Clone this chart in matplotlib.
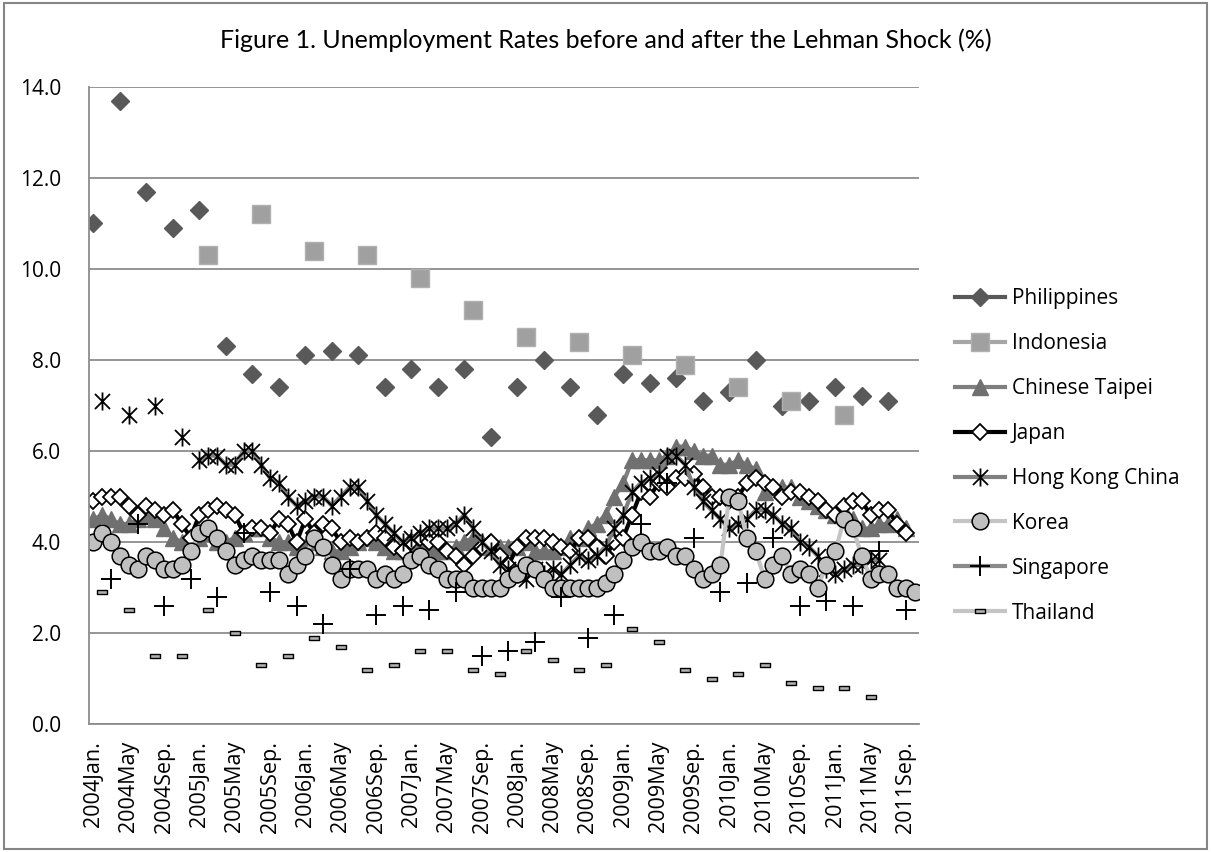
import numpy as np
import matplotlib
matplotlib.use('Agg')
import matplotlib.pyplot as plt
from matplotlib.path import Path
from matplotlib.patches import Rectangle

plt.rcParams['font.family'] = ['Open Sans', 'DejaVu Sans']

# monthly category axis: 2004 Jan .. 2011 Oct
n_months = 94
tick_labels = ['2004Jan.', '2004May', '2004Sep.', '2005Jan.', '2005May', '2005Sep.',
               '2006Jan.', '2006May', '2006Sep.', '2007Jan.', '2007May', '2007Sep.',
               '2008Jan.', '2008May', '2008Sep.', '2009Jan.', '2009May', '2009Sep.',
               '2010Jan.', '2010May', '2010Sep.', '2011Jan.', '2011May', '2011Sep.']

# quarterly, from 2004 Jan
philippines = [11.0, 13.7, 11.7, 10.9, 11.3, 8.3, 7.7, 7.4, 8.1, 8.2, 8.1, 7.4,
               7.8, 7.4, 7.8, 6.3, 7.4, 8.0, 7.4, 6.8, 7.7, 7.5, 7.6, 7.1,
               7.3, 8.0, 7.0, 7.1, 7.4, 7.2, 7.1]
# half-yearly, from 2005 Feb
indonesia = [10.3, 11.2, 10.4, 10.3, 9.8, 9.1, 8.5, 8.4, 8.1, 7.9, 7.4, 7.1, 6.8]
# monthly, from 2004 Jan
chinese_taipei = [4.5, 4.6, 4.5, 4.4, 4.4, 4.5, 4.6, 4.5, 4.3, 4.1, 4.0, 4.0,
                  4.1, 4.2, 4.0, 4.0, 4.1, 4.2, 4.3, 4.3, 4.1, 4.0, 4.0, 3.9,
                  3.9, 4.0, 3.9, 3.8, 3.8, 3.9, 4.0, 4.1, 4.0, 3.9, 3.8, 3.8,
                  3.8, 3.9, 3.9, 3.8, 3.8, 3.9, 4.0, 4.1, 4.0, 3.9, 3.9, 3.9,
                  3.9, 4.0, 3.8, 3.8, 3.8, 3.9, 4.1, 4.1, 4.3, 4.4, 4.6, 5.0,
                  5.3, 5.8, 5.8, 5.8, 5.8, 5.9, 6.1, 6.1, 6.0, 5.9, 5.9, 5.7,
                  5.7, 5.8, 5.7, 5.6, 5.1, 5.2, 5.2, 5.2, 5.0, 4.9, 4.8, 4.7,
                  4.6, 4.7, 4.5, 4.3, 4.3, 4.4, 4.4, 4.5, 4.3]
japan = [4.9, 5.0, 5.0, 5.0, 4.8, 4.6, 4.8, 4.7, 4.6, 4.7, 4.4, 4.1,
         4.6, 4.7, 4.8, 4.7, 4.6, 4.2, 4.3, 4.3, 4.2, 4.5, 4.4, 4.0,
         4.5, 4.2, 4.4, 4.3, 4.0, 4.1, 4.0, 4.1, 4.2, 4.1, 3.9, 3.8,
         4.0, 4.1, 4.0, 4.0, 3.8, 3.7, 3.5, 3.7, 3.9, 4.0, 3.7, 3.5,
         3.9, 4.1, 4.1, 4.1, 4.0, 3.9, 3.8, 4.1, 4.1, 3.9, 3.7, 4.0,
         4.1, 4.6, 5.1, 5.0, 5.3, 5.2, 5.4, 5.4, 5.5, 5.2, 5.0, 5.0,
         4.9, 5.0, 5.3, 5.4, 5.3, 5.2, 5.0, 5.1, 5.1, 5.0, 4.9, 4.7,
         4.6, 4.8, 4.9, 4.9, 4.6, 4.7, 4.7, 4.4, 4.2]
hong_kong = [None, 7.1, None, None, 6.8, None, None, 7.0, None, None, 6.3, None,
             5.8, 5.9, 5.9, 5.7, 5.7, 6.0, 6.0, 5.7, 5.4, 5.3, 5.0, 4.8,
             4.9, 5.0, 5.0, 4.8, 5.0, 5.2, 5.2, 4.9, 4.6, 4.4, 4.2, 4.0,
             4.1, 4.2, 4.3, 4.3, 4.3, 4.4, 4.6, 4.3, 4.0, 3.8, 3.5, 3.4,
             3.3, 3.2, 3.4, 3.3, 3.4, 3.3, 3.5, 3.7, 3.6, 3.7, 3.9, 4.3,
             4.6, 5.1, 5.3, 5.4, 5.5, 5.9, 5.9, 5.7, 5.2, 4.9, 4.7, 4.5,
             4.3, 4.4, 4.5, 4.7, 4.7, 4.6, 4.4, 4.3, 4.0, 3.9, 3.7, 3.4,
             3.3, 3.4, 3.5, 3.5, 3.6, 3.6]
korea = [4.0, 4.2, 4.0, 3.7, 3.5, 3.4, 3.7, 3.6, 3.4, 3.4, 3.5, 3.8,
         4.2, 4.3, 4.1, 3.8, 3.5, 3.6, 3.7, 3.6, 3.6, 3.6, 3.3, 3.5,
         3.7, 4.1, 3.9, 3.5, 3.2, 3.4, 3.4, 3.4, 3.2, 3.3, 3.2, 3.3,
         3.6, 3.7, 3.5, 3.4, 3.2, 3.2, 3.2, 3.0, 3.0, 3.0, 3.0, 3.2,
         3.3, 3.5, 3.4, 3.2, 3.0, 3.0, 3.0, 3.0, 3.0, 3.0, 3.1, 3.3,
         3.6, 3.9, 4.0, 3.8, 3.8, 3.9, 3.7, 3.7, 3.4, 3.2, 3.3, 3.5,
         5.0, 4.9, 4.1, 3.8, 3.2, 3.5, 3.7, 3.3, 3.4, 3.3, 3.0, 3.5,
         3.8, 4.5, 4.3, 3.7, 3.2, 3.3, 3.3, 3.0, 3.0, 2.9]
# quarterly, from 2004 Mar
singapore = [3.2, 4.4, 2.6, 3.2, 2.8, 4.2, 2.9, 2.6, 2.2, 3.4, 2.4, 2.6,
             2.5, 2.9, 1.5, 1.6, 1.8, 2.8, 1.9, 2.4, 4.4, 5.3, 4.1, 2.9,
             3.1, 4.1, 2.6, 2.7, 2.6, 3.8, 2.5]
# quarterly, from 2004 Feb
thailand = [2.9, 2.5, 1.5, 1.5, 2.5, 2.0, 1.3, 1.5, 1.9, 1.7, 1.2, 1.3,
            1.6, 1.6, 1.2, 1.1, 1.6, 1.4, 1.2, 1.3, 2.1, 1.8, 1.2, 1.0,
            1.1, 1.3, 0.9, 0.8, 0.8, 0.6]


def on_months(values, start=0, step=1):
    s = np.full(n_months, np.nan)
    vals = np.array([np.nan if v is None else v for v in values], dtype=float)
    s[start:start + step * len(vals):step] = vals
    return s


star = Path([(-1, -1), (1, 1), (-1, 1), (1, -1), (0, -1.2), (0, 1.2)],
            [Path.MOVETO, Path.LINETO, Path.MOVETO, Path.LINETO, Path.MOVETO, Path.LINETO])
dash = Path([(-1, -0.45), (1, -0.45), (1, 0.45), (-1, 0.45), (-1, -0.45)],
            [Path.MOVETO, Path.LINETO, Path.LINETO, Path.LINETO, Path.CLOSEPOLY])

x = np.arange(n_months)
lw = 3

fig = plt.figure(figsize=(12.11, 8.52), dpi=100)
ax = fig.add_axes([0.0735, 0.150, 0.6855, 0.748])

ax.plot(x, on_months(philippines, 0, 3), color='#595959', lw=lw, marker='D', ms=9,
        mfc='#595959', mec='#595959', label='Philippines')
ax.plot(x, on_months(indonesia, 13, 6), color='#a6a6a6', lw=lw, marker='s', ms=13,
        mfc='#a0a0a0', mec='#b0b0b0', label='Indonesia')
ax.plot(x, on_months(chinese_taipei), color='#7f7f7f', lw=lw, marker='^', ms=11,
        mfc='#707070', mec='#707070', label='Chinese Taipei')
ax.plot(x, on_months(japan), color='black', lw=lw, marker='D', ms=8.5,
        mfc='white', mec='black', mew=1.3, label='Japan')
ax.plot(x, on_months(hong_kong), color='#808080', lw=lw, marker=star, ms=13,
        mfc='none', mec='black', mew=1.3, label='Hong Kong China')
ax.plot(x, on_months(korea), color='#c4c4c4', lw=lw, marker='o', ms=12,
        mfc='#c0c0c0', mec='black', mew=1.1, label='Korea')
ax.plot(x, on_months(singapore, 2, 3), color='#8a8a8a', lw=lw, marker='+', ms=14,
        mec='black', mew=1.4, label='Singapore')
ax.plot(x, on_months(thailand, 1, 3), color='#c4c4c4', lw=lw, marker=dash, ms=7,
        mfc='#b0b0b0', mec='black', mew=1.0, label='Thailand')

ax.set_xlim(-0.5, n_months - 0.5)
ax.set_ylim(0, 14)
ax.set_yticks(np.arange(0, 14.1, 2))
ax.set_yticklabels([f'{v:.1f}' for v in np.arange(0, 14.1, 2)], fontsize=15)
ax.set_xticks(np.arange(0, n_months, 4))
ax.set_xticklabels(tick_labels, rotation=90, fontsize=15.5)
ax.tick_params(axis='both', length=0)
ax.tick_params(axis='y', pad=20)
ax.tick_params(axis='x', pad=12)

ax.grid(axis='y', color='#8c8c8c', lw=1.3)
ax.set_axisbelow(True)
for side in ['top', 'right']:
    ax.spines[side].set_visible(False)
for side in ['left', 'bottom']:
    ax.spines[side].set_color('#8c8c8c')
    ax.spines[side].set_linewidth(1.3)

fig.legend(loc='center left', bbox_to_anchor=(0.789, 0.465), frameon=False,
           fontsize=15, handlelength=2.4, handletextpad=0.3, labelspacing=1.15,
           borderpad=0, borderaxespad=0, numpoints=1)

fig.text(0.5, 0.953, 'Figure 1. Unemployment Rates before and after the Lehman Shock (%)',
         ha='center', va='center', fontsize=18, family=['Lato', 'DejaVu Sans'])

fig.patches.append(Rectangle((0.003, 0.003), 0.994, 0.994, transform=fig.transFigure,
                             fill=False, edgecolor='#868686', lw=1.5))

fig.savefig('out.png', dpi=100)
